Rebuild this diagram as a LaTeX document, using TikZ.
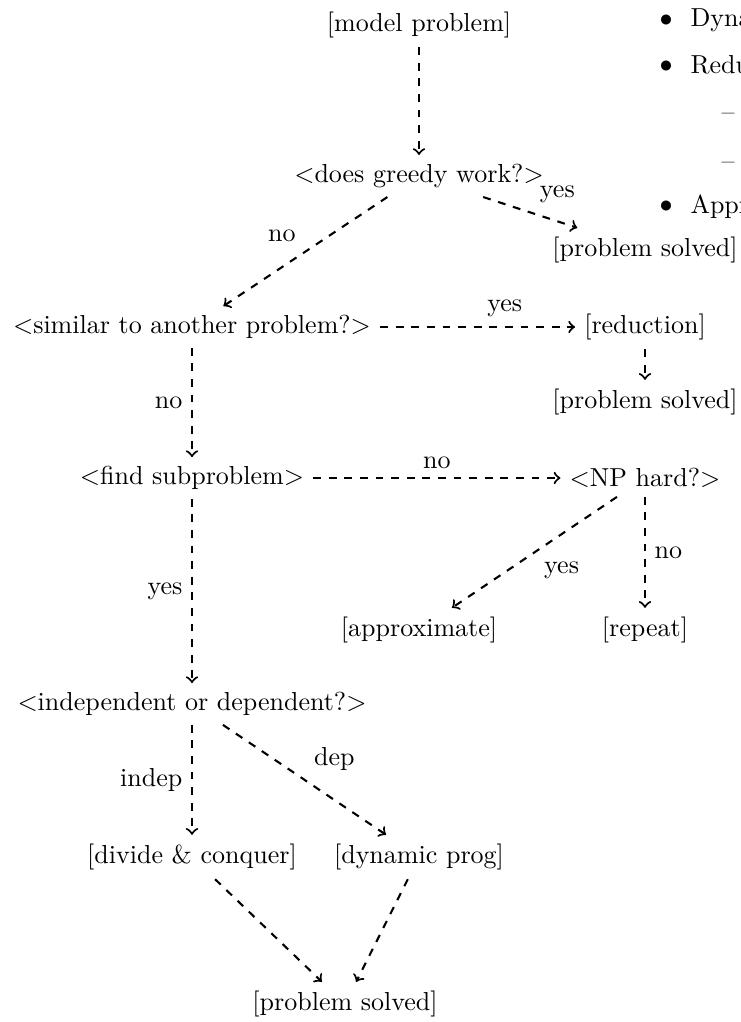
\documentclass[tikz,border=0pt]{standalone}
\begin{document}
\begin{tikzpicture}[x=0.3846pt, y=-0.3846pt,
  arr/.style={->, dashed, thick},
  lbl/.style={}]
\useasboundingbox (0,0) rectangle (741,1022);
\clip (0,0) rectangle (741,1022);

% flowchart nodes
\node (model)     at (419,25)   {[model problem]};
\node (greedy)    at (419,176)  {$<$does greedy work?$>$};
\node (ps1)       at (645,250)  {[problem solved]};
\node (similar)   at (192,327)  {$<$similar to another problem?$>$};
\node (reduction) at (645,327)  {[reduction]};
\node (ps2)       at (645,402)  {[problem solved]};
\node (find)      at (192,478)  {$<$find subproblem$>$};
\node (np)        at (645,478)  {$<$NP hard?$>$};
\node (approx)    at (419,630)  {[approximate]};
\node (repeat)    at (645,630)  {[repeat]};
\node (indep)     at (192,704)  {$<$independent or dependent?$>$};
\node (divide)    at (192,857)  {[divide \& conquer]};
\node (dynprog)   at (419,857)  {[dynamic prog]};
\node (ps3)       at (345,1004) {[problem solved]};

% connectors
\draw[arr] (model) -- (greedy);
\draw[arr] (greedy) -- (ps1) node[lbl, midway, above right] {yes};
\draw[arr] (greedy) -- (similar) node[lbl, midway, above left] {no};
\draw[arr] (similar) -- (reduction) node[lbl, midway, above right] {yes};
\draw[arr] (reduction) -- (ps2);
\draw[arr] (similar) -- (find) node[lbl, midway, left] {no};
\draw[arr] (find) -- (np) node[lbl, midway, above] {no};
\draw[arr] (np) -- (approx) node[lbl, midway, below right] {yes};
\draw[arr] (np) -- (repeat) node[lbl, midway, right] {no};
\draw[arr] (find) -- (indep) node[lbl, midway, left] {yes};
\draw[arr] (indep) -- (divide) node[lbl, midway, left] {indep};
\draw[arr] (indep) -- (dynprog) node[lbl, midway, above right] {dep};
\draw[arr] (divide) -- (ps3);
\draw[arr] (dynprog) -- (ps3);

% list at the right edge (clipped)
\node (b1) at (666,20.5)  {$\bullet$};
\node[anchor=base west, inner sep=0] (t1) at (690,27)  {Dynamic programming};
\node (b2) at (666,66.5)  {$\bullet$};
\node[anchor=base west, inner sep=0] (t2) at (690,73)  {Reduction};
\node[anchor=base, inner sep=0] (d1) at (728,120) {\textendash};
\node[anchor=base, inner sep=0] (d2) at (728,169) {\textendash};
\node (b3) at (666,206.5) {$\bullet$};
\node[anchor=base west, inner sep=0] (t3) at (690,213) {Approximation};
\end{tikzpicture}
\end{document}
